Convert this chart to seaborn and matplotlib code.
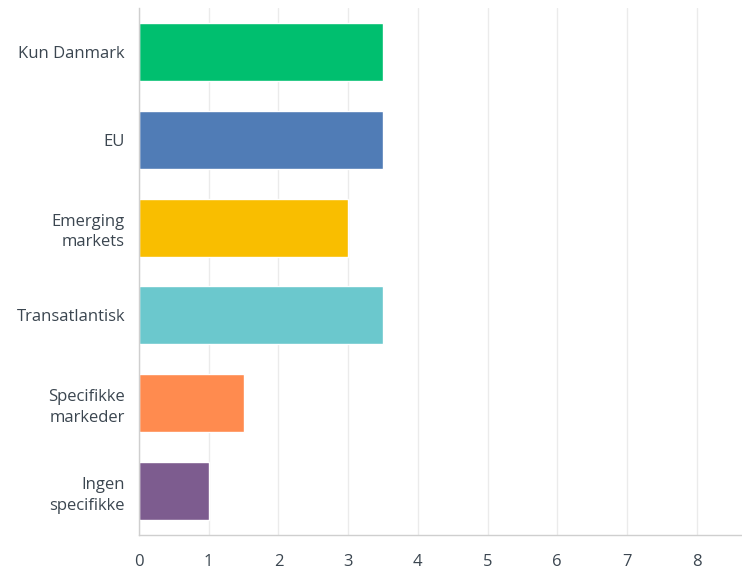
"""
Horizontal bar chart of market focus answers.
"""

import pandas as pd
import matplotlib.pyplot as plt
import seaborn as sns

categories = ["Kun Danmark", "EU", "Emerging\nmarkets", "Transatlantisk",
              "Specifikke\nmarkeder", "Ingen\nspecifikke"]
values = [3.5, 3.5, 3.0, 3.5, 1.5, 1.0]
colors = ["#00BF6F", "#507CB6", "#F9BE00", "#6BC8CD", "#FF8B4F", "#7D5C8F"]
x_ticks = [0, 1, 2, 3, 4, 5, 6, 7, 8]

df = pd.DataFrame({"category": categories, "value": values})

sns.set_style("white")
plt.rcParams['font.family'] = ['Open Sans', 'DejaVu Sans']

fig = plt.figure(figsize=(7.42, 5.72), dpi=100)
ax = fig.add_axes([139 / 742, 37 / 572, 603 / 742, 527 / 572])

sns.barplot(data=df, x="value", y="category", hue="category", palette=colors,
            legend=False, width=0.66, saturation=1, ax=ax, zorder=2)

ax.set_xlim(0, 8.65)
ax.set_ylim(5.5, -0.5)
ax.set_xticks(x_ticks)
ax.set_xlabel("")
ax.set_ylabel("")
ax.grid(axis="x", color="#ebebeb", linewidth=1, zorder=0)
ax.grid(axis="y", visible=False)
ax.set_axisbelow(True)

for side in ["top", "right"]:
    ax.spines[side].set_visible(False)
for side in ["left", "bottom"]:
    ax.spines[side].set_color("#cfcfcf")
    ax.spines[side].set_linewidth(1)
    ax.spines[side].set_zorder(4)

ax.tick_params(axis="y", length=0, pad=10, labelsize=12, labelcolor="#3b4650")
ax.tick_params(axis="x", length=0, pad=14, labelsize=12, labelcolor="#3b4650")
for lbl in ax.get_yticklabels():
    lbl.set_multialignment("right")
    lbl.set_linespacing(1.4)

fig.savefig("out.png", dpi=100)
